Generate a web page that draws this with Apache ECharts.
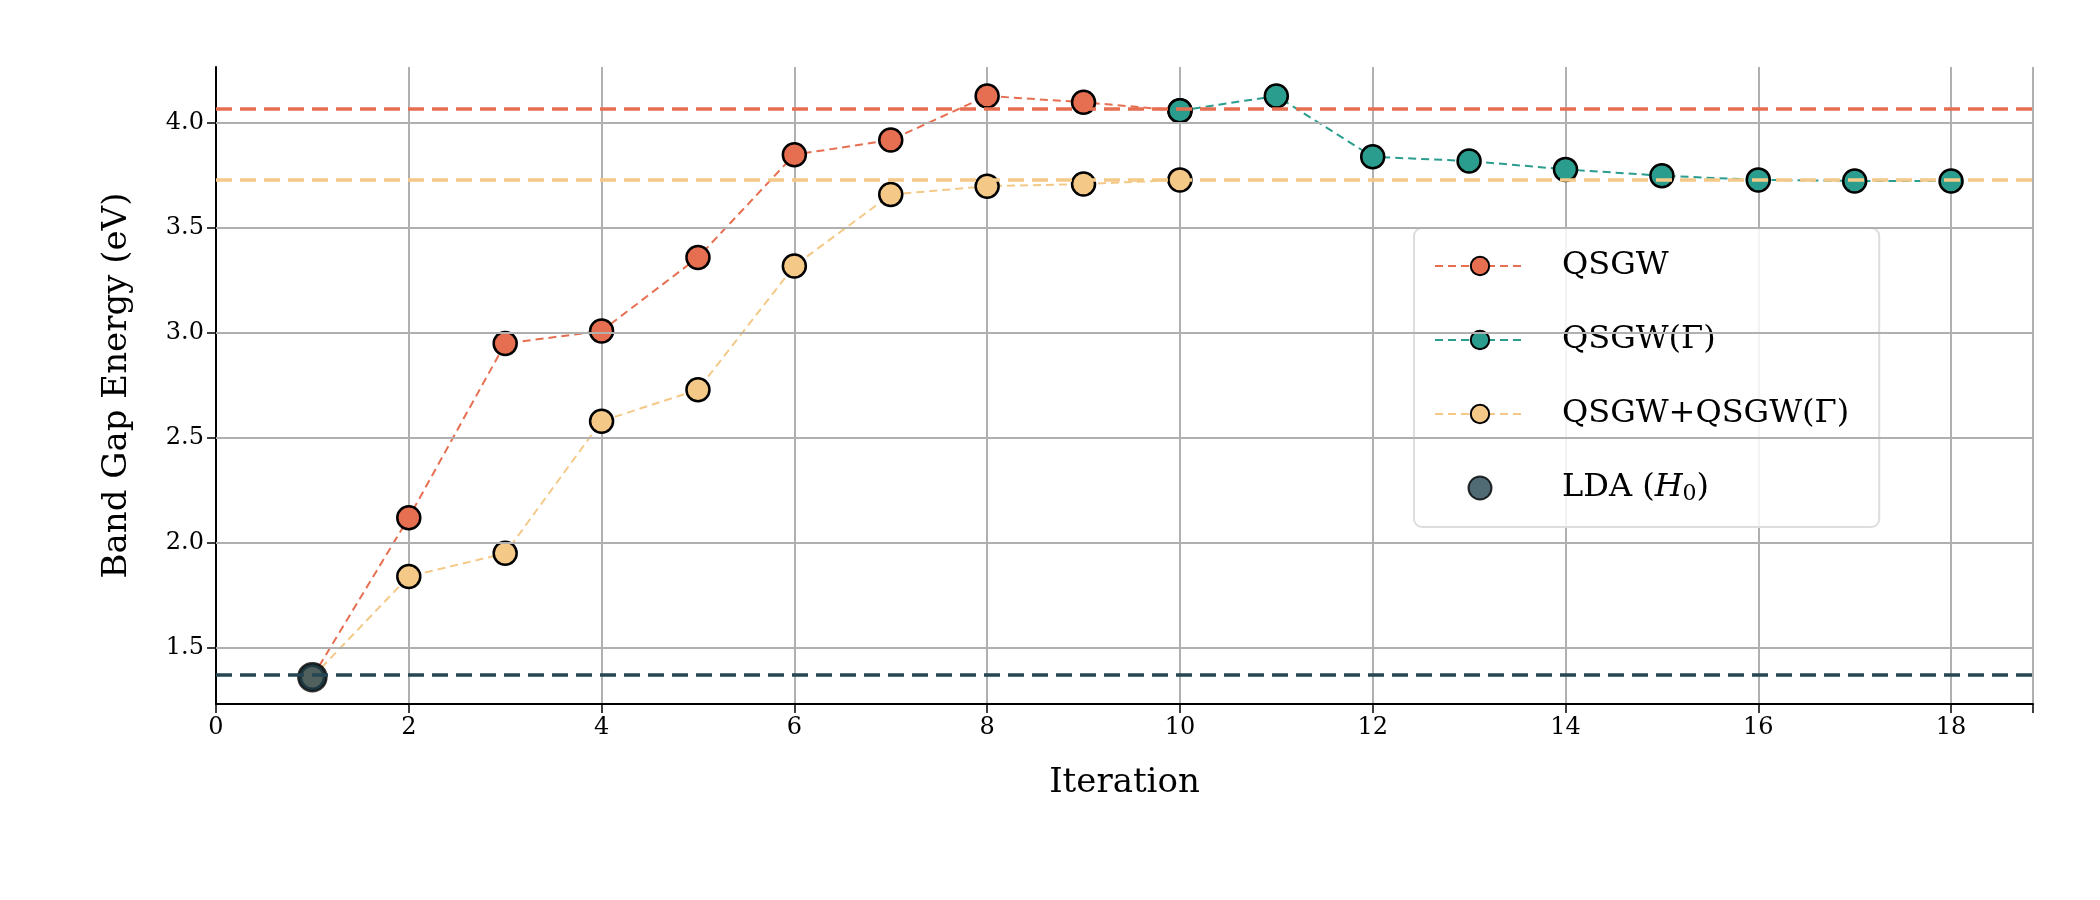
<!DOCTYPE html>
<html><head><meta charset="utf-8">
<script src="https://cdn.jsdelivr.net/npm/echarts@6/dist/echarts.min.js"></script>
<style>html,body{margin:0;background:#fff}#c{width:2100px;height:900px}</style>
</head><body><div id="c"></div>
<script>
const qsgw = [[1,1.36],[2,2.12],[3,2.95],[4,3.01],[5,3.36],[6,3.85],[7,3.92],[8,4.13],[9,4.10],[10,4.06]];
const qsgwG = [[10,4.06],[11,4.13],[12,3.84],[13,3.82],[14,3.78],[15,3.75],[16,3.73],[17,3.725],[18,3.725]];
const combo = [[1,1.36],[2,1.84],[3,1.95],[4,2.58],[5,2.73],[6,3.32],[7,3.66],[8,3.70],[9,3.71],[10,3.73]];
const lda = [[1,1.36]];
const refLines = {qsgw:4.065, combo:3.73, lda:1.366};
const yTicks = [1.5,2.0,2.5,3.0,3.5,4.0];
const C = {red:'#E76F51', teal:'#2A9D8F', yel:'#F4C987', dark:'#264653'};
const F = 'DejaVu Serif';
function ml(v,c){return {silent:true,symbol:'none',label:{show:false},lineStyle:{color:c,type:[16,8],width:3.5},data:[{yAxis:v}]};}
function ser(name,data,c,extra){return Object.assign({name,type:'line',data,symbol:'circle',symbolSize:23,
 lineStyle:{color:c,type:[8,5],width:2},itemStyle:{color:c,borderColor:'#000',borderWidth:2.5},z:3},extra||{});}
const chart = echarts.init(document.getElementById('c'));
chart.setOption({
 animation:false,
 grid:{left:216,right:67,top:67,bottom:196},
 xAxis:{type:'value',min:0,max:18.85,interval:2,
  axisLine:{onZero:false,lineStyle:{color:'#000',width:2}},axisTick:{show:true,length:9,lineStyle:{color:'#000',width:1.5}},
  axisLabel:{color:'#000',fontFamily:F,fontSize:24,margin:12,formatter:v=>v%2===0&&v<=18?v:''},
  splitLine:{show:true,lineStyle:{color:'#b0b0b0',width:2}},
  name:'Iteration',nameLocation:'middle',nameGap:62,nameTextStyle:{fontFamily:F,fontSize:34,color:'#000'}},
 yAxis:{type:'value',min:1.232,max:4.268,
  axisLine:{show:true,lineStyle:{color:'#000',width:2}},
  axisTick:{show:true,length:9,customValues:yTicks,lineStyle:{color:'#000',width:1.5}},
  axisLabel:{color:'#000',fontFamily:F,fontSize:24,margin:12,customValues:yTicks,formatter:v=>v.toFixed(1)},
  splitLine:{show:false},
  name:'Band Gap Energy (eV)',nameLocation:'middle',nameGap:82,nameTextStyle:{fontFamily:F,fontSize:34,color:'#000'}},
 legend:{orient:'vertical',left:1414,top:228,itemGap:42,itemWidth:90,itemHeight:23,
  backgroundColor:'rgba(255,255,255,0.85)',borderColor:'#ddd',borderWidth:2,borderRadius:8,padding:[22,30,22,20],
  textStyle:{fontFamily:F,fontSize:32,color:'#000',padding:[0,0,0,32],
   rich:{i:{fontFamily:F,fontStyle:'italic',fontSize:32},s:{fontFamily:F,fontSize:22,verticalAlign:'bottom',padding:[12,0,0,0]}}},
  formatter:n=>n==='LDA (H0)'?'LDA ({i|H}{s|0})':n,
  data:['QSGW','QSGW(Γ)','QSGW+QSGW(Γ)','LDA (H0)']},
 series:[
  {type:'line',data:[],silent:true,markLine:{silent:true,symbol:'none',label:{show:false},
    lineStyle:{color:'#b0b0b0',type:'solid',width:2},data:yTicks.map(v=>({yAxis:v}))},z:1},
  ser('QSGW',qsgw,C.red,{markLine:ml(refLines.qsgw,C.red)}),
  ser('QSGW(Γ)',qsgwG,C.teal),
  ser('QSGW+QSGW(Γ)',combo,C.yel,{markLine:ml(refLines.combo,C.yel)}),
  {name:'LDA (H0)',type:'scatter',data:lda,symbolSize:28,z:4,
   itemStyle:{color:C.dark,borderColor:'#000',borderWidth:2.5},markLine:ml(refLines.lda,C.dark)}
 ]
});
</script></body></html>
